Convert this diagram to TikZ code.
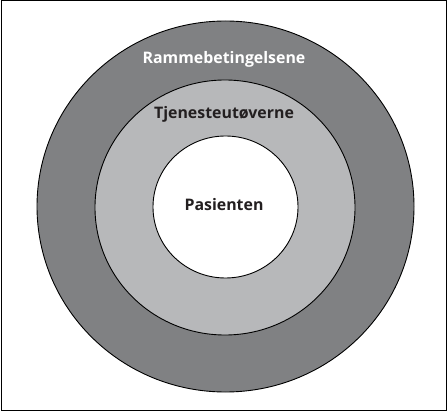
\documentclass[tikz,border=0pt]{standalone}
\usepackage{fontspec}
\setmainfont{Open Sans}
\definecolor{outergray}{RGB}{128,129,131}
\definecolor{midgray}{RGB}{183,184,186}
\definecolor{txtdark}{RGB}{35,31,32}
\begin{document}
\begin{tikzpicture}[x=1pt,y=-1pt,
  ring/.style={draw=black,line width=0.9pt},
  lbl/.style={font=\bfseries\fontsize{15.9}{18}\selectfont,inner sep=0pt}]
\useasboundingbox (0,0) rectangle (447,411);
\draw[black,line width=1pt] (1,1) rectangle (446,410);
\fill[outergray,ring] (225.5,206.5) ellipse [x radius=188.5, y radius=185.5];
\fill[midgray,ring] (225,207.5) ellipse [x radius=130, y radius=127.5];
\fill[white,ring] (225.5,207) ellipse [x radius=72.5, y radius=71];
\node[lbl,text=white] (ramme) at (224,59) {Rammebetingelsene};
\node[lbl,text=txtdark] (tjen) at (224,114) {Tjenesteutøverne};
\node[lbl,text=txtdark] (pas) at (224,205) {Pasienten};
\end{tikzpicture}
\end{document}
